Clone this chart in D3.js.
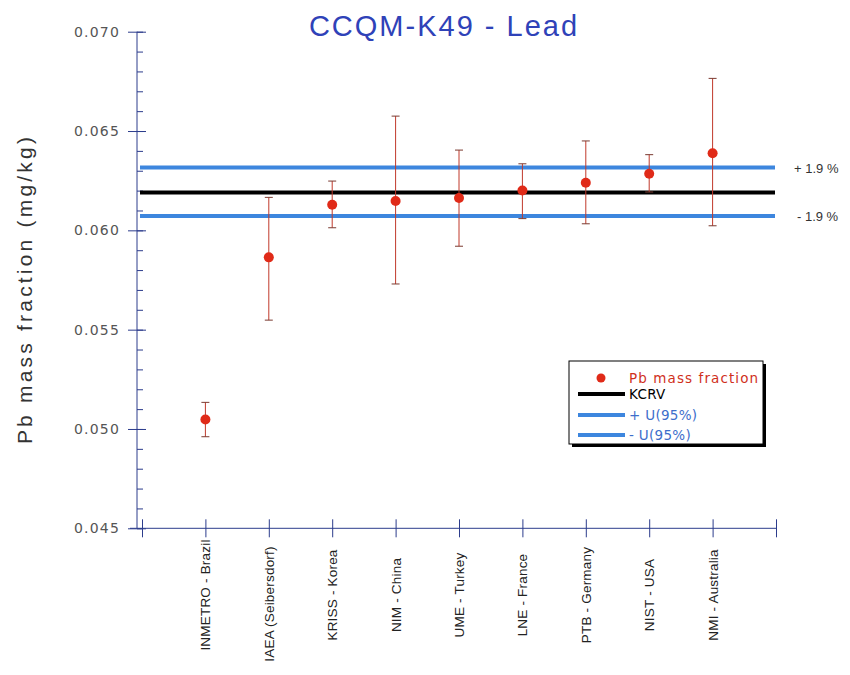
<!DOCTYPE html>
<html>
<head>
<meta charset="utf-8">
<script src="https://cdn.jsdelivr.net/npm/d3@7"></script>
<style>
  body { margin: 0; background: #fff; }
  svg { display: block; }
</style>
</head>
<body>
<div id="chart"></div>
<script>
// Participants and their results (mg/kg)
const labs = ["INMETRO - Brazil", "IAEA  (Seibersdorf)", "KRISS - Korea", "NIM - China",
  "UME - Turkey", "LNE - France", "PTB - Germany", "NIST - USA", "NMI - Australia"];
const values = [0.05048, 0.05864, 0.06129, 0.06148, 0.06163, 0.06201, 0.06240, 0.06285, 0.06388];
const lowBars = [0.04961, 0.05548, 0.06013, 0.05730, 0.05920, 0.06059, 0.06033, 0.06193, 0.06023];
const highBars = [0.05134, 0.06166, 0.06248, 0.06575, 0.06404, 0.06335, 0.06450, 0.06381, 0.06765];

const kcrv = 0.0619;
const upperU = 0.06316;
const lowerU = 0.06072;
const yTicks = [0.045, 0.050, 0.055, 0.060, 0.065, 0.070];

const width = 850, height = 675;
const axisX = 137;

const svg = d3.select("#chart").append("svg")
  .attr("width", width)
  .attr("height", height);

const x = d3.scaleLinear().domain([0, 10]).range([142, 776]);
const y = d3.scaleLinear().domain([0.045, 0.070]).range([528.3, 31.7]);

const axisColor = "#2c3c8c";

// Title
svg.append("text")
  .attr("x", 444).attr("y", 36)
  .attr("text-anchor", "middle")
  .attr("font-family", "Liberation Sans, Arial, sans-serif")
  .attr("font-size", "29px")
  .attr("letter-spacing", "2px")
  .attr("fill", "#2f42b8")
  .text("CCQM-K49  -  Lead");

// Y axis label
svg.append("text")
  .attr("transform", "translate(32,289) rotate(-90)")
  .attr("text-anchor", "middle")
  .attr("font-family", "Liberation Sans, Arial, sans-serif")
  .attr("font-size", "21px")
  .attr("letter-spacing", "3.2px")
  .attr("fill", "#333")
  .text("Pb mass fraction (mg/kg)");

// minor y ticks
const minorY = d3.range(45, 71).map(d => d / 1000);
svg.append("g")
  .attr("transform", `translate(${axisX},0)`)
  .call(d3.axisRight(y).tickValues(minorY).tickSize(6).tickFormat(""))
  .call(g => g.select(".domain").remove())
  .selectAll("line").attr("stroke", axisColor);

// major y axis
const yAxis = svg.append("g")
  .attr("transform", `translate(${axisX},0)`)
  .call(d3.axisLeft(y).tickValues(yTicks).tickSize(9).tickPadding(8).tickFormat(d3.format(".3f")));
yAxis.select(".domain").attr("stroke", axisColor).attr("d", `M0,${y(0.070)}V${y(0.045)}`);
yAxis.selectAll(".tick line").attr("x1", 9).attr("x2", -9).attr("stroke", axisColor);
yAxis.selectAll(".tick text")
  .attr("font-family", "DejaVu Sans, Verdana, sans-serif")
  .attr("font-size", "14px")
  .attr("letter-spacing", "1.2px")
  .attr("fill", "#555");

// x axis
const xAxis = svg.append("g")
  .attr("transform", `translate(0,${y(0.045)})`)
  .call(d3.axisBottom(x).tickValues(d3.range(0, 11)).tickSize(9).tickFormat(""));
xAxis.select(".domain").attr("stroke", axisColor).attr("d", `M130,0H${x(10)}`);
xAxis.selectAll(".tick line").attr("y1", -9).attr("y2", 9).attr("stroke", axisColor);

// lab labels
svg.append("g").selectAll("text")
  .data(labs)
  .join("text")
  .attr("transform", (d, i) => `translate(${x(i + 1) + 5},${i === 1 ? 604 : 595}) rotate(-90)`)
  .attr("text-anchor", "middle")
  .attr("font-family", "Liberation Sans, Arial, sans-serif")
  .attr("font-size", "13.5px")
  .attr("letter-spacing", "0.2px")
  .attr("fill", "#222")
  .text(d => d);

// reference lines
const refLines = [
  { v: upperU, color: "#3d86de" },
  { v: kcrv, color: "#000" },
  { v: lowerU, color: "#3d86de" }
];
svg.append("g").selectAll("line")
  .data(refLines)
  .join("line")
  .attr("x1", 140).attr("x2", 775)
  .attr("y1", d => y(d.v)).attr("y2", d => y(d.v))
  .attr("stroke", d => d.color)
  .attr("stroke-width", 4);

svg.append("text")
  .attr("x", 794).attr("y", y(upperU) + 5)
  .attr("font-family", "Liberation Sans, Arial, sans-serif")
  .attr("font-size", "13px").attr("fill", "#333")
  .text("+ 1.9 %");
svg.append("text")
  .attr("x", 797).attr("y", y(lowerU) + 5)
  .attr("font-family", "Liberation Sans, Arial, sans-serif")
  .attr("font-size", "13px").attr("fill", "#333")
  .text("- 1.9 %");

// error bars
const bars = svg.append("g");
values.forEach((v, i) => {
  const cx = x(i + 1);
  bars.append("line")
    .attr("x1", cx).attr("x2", cx)
    .attr("y1", y(lowBars[i])).attr("y2", y(highBars[i]))
    .attr("stroke", "#c0392b").attr("stroke-width", 1);
  [lowBars[i], highBars[i]].forEach(b => {
    bars.append("line")
      .attr("x1", cx - 4).attr("x2", cx + 4)
      .attr("y1", y(b)).attr("y2", y(b))
      .attr("stroke", "#7a3a30").attr("stroke-width", 1);
  });
});

svg.append("g").selectAll("circle")
  .data(values)
  .join("circle")
  .attr("cx", (d, i) => x(i + 1))
  .attr("cy", d => y(d))
  .attr("r", 5)
  .attr("fill", "#e02a18");

// legend
const legend = svg.append("g").attr("transform", "translate(569,361)");
legend.append("rect")
  .attr("x", 3).attr("y", 3).attr("width", 194).attr("height", 83)
  .attr("fill", "#000");
legend.append("rect")
  .attr("width", 194).attr("height", 83)
  .attr("fill", "#fff").attr("stroke", "#000").attr("stroke-width", 1);
legend.append("circle")
  .attr("cx", 32).attr("cy", 17).attr("r", 4.5).attr("fill", "#e02a18");
legend.append("text")
  .attr("x", 60).attr("y", 22)
  .attr("font-family", "DejaVu Sans, Verdana, sans-serif")
  .attr("font-size", "13.5px").attr("letter-spacing", "1.1px").attr("fill", "#d0301c")
  .text("Pb mass fraction");

const legendLines = [
  { label: "KCRV", color: "#000", text: "#000", dy: 33 },
  { label: "+ U(95%)", color: "#3d86de", text: "#3d6ecb", dy: 54 },
  { label: "- U(95%)", color: "#3d86de", text: "#3d6ecb", dy: 74 }
];
legendLines.forEach(l => {
  legend.append("line")
    .attr("x1", 9).attr("x2", 56)
    .attr("y1", l.dy).attr("y2", l.dy)
    .attr("stroke", l.color).attr("stroke-width", 4);
  legend.append("text")
    .attr("x", 60).attr("y", l.dy + 5)
    .attr("font-family", "DejaVu Sans, Verdana, sans-serif")
    .attr("font-size", "13.5px").attr("letter-spacing", "0.3px").attr("fill", l.text)
    .text(l.label);
});
</script>
</body>
</html>
